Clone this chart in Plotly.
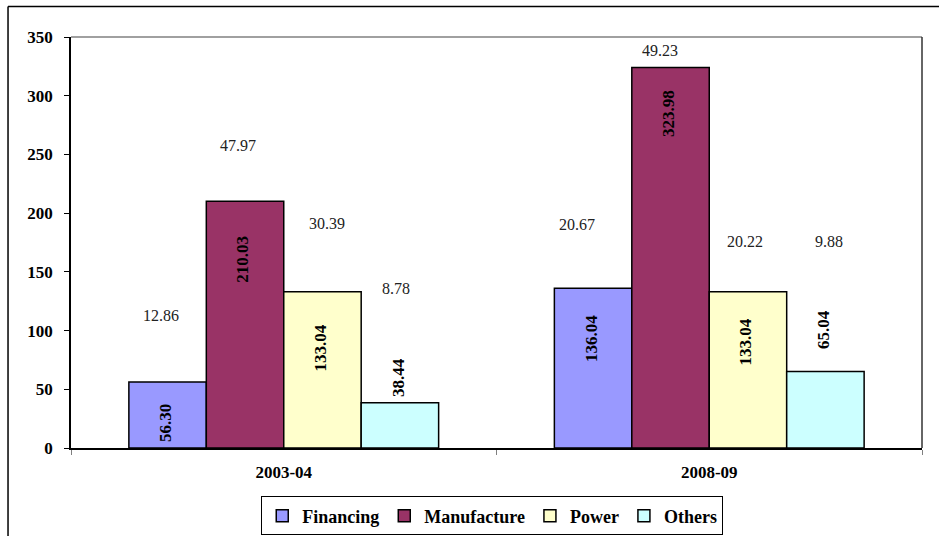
import plotly.graph_objects as go

categories = ["2003-04", "2008-09"]
series_names = ["Financing", "Manufacture", "Power", "Others"]
values = {
    "Financing": [56.30, 136.04],
    "Manufacture": [210.03, 323.98],
    "Power": [133.04, 133.04],
    "Others": [38.44, 65.04],
}
shares = {
    "Financing": [12.86, 20.67],
    "Manufacture": [47.97, 49.23],
    "Power": [30.39, 20.22],
    "Others": [8.78, 9.88],
}
# label heights (data units) as placed in the original
value_label_y = {
    "Financing": [20.9, 92.8],
    "Manufacture": [160.4, 284.9],
    "Power": [85.1, 90.6],
    "Others": [60.4, 100.9],
}
share_label_y = {
    "Financing": [113.2, 190.6],
    "Manufacture": [257.9, 338.7],
    "Power": [191.2, 175.6],
    "Others": [135.9, 175.6],
}
share_label_nudge = {
    "Financing": [-7, -16],
    "Manufacture": [-7, -11],
    "Power": [5, -3],
    "Others": [-4, 4],
}
colors = {
    "Financing": "#9999FF",
    "Manufacture": "#993366",
    "Power": "#FFFFCC",
    "Others": "#CCFFFF",
}
y_ticks = [0, 50, 100, 150, 200, 250, 300, 350]

FONT = "Liberation Serif, Times New Roman, serif"
bargap = 0.272

fig = go.Figure()
for name in series_names:
    fig.add_trace(go.Bar(
        x=categories, y=values[name], name=name,
        marker=dict(color=colors[name], line=dict(color="black", width=1.5)),
    ))

n = len(series_names)
w = (1 - bargap) / n
annotations = []
for j, name in enumerate(series_names):
    for i, cat in enumerate(categories):
        xc = i + (j - (n - 1) / 2) * w
        annotations.append(dict(
            x=xc, y=value_label_y[name][i], xref="x", yref="y",
            text=f"<b>{values[name][i]:.2f}</b>", showarrow=False,
            textangle=-90, xshift=-2,
            font=dict(family=FONT, size=17, color="black"),
        ))
        annotations.append(dict(
            x=xc, y=share_label_y[name][i], xref="x", yref="y",
            text=f"{shares[name][i]:.2f}", showarrow=False,
            xshift=share_label_nudge[name][i],
            font=dict(family=FONT, size=16, color="#222222"),
        ))

shapes = [
    # outer chart frame (extends past the image on right/bottom)
    dict(type="line", xref="paper", yref="paper", x0=-0.074, x1=-0.074, y0=1.074, y1=-0.4,
         line=dict(color="black", width=1.5)),
    dict(type="line", xref="paper", yref="paper", x0=-0.074, x1=1.1, y0=1.074, y1=1.074,
         line=dict(color="black", width=1.5)),
    # plot-area frame
    dict(type="line", xref="paper", yref="paper", x0=0, x1=1, y0=1, y1=1,
         line=dict(color="#808080", width=1.5)),
    dict(type="line", xref="paper", yref="paper", x0=1, x1=1, y0=0, y1=1,
         line=dict(color="#333333", width=1.5)),
]

fig.update_layout(
    width=939, height=536,
    margin=dict(l=71, r=17, t=37, b=88, autoexpand=False),
    paper_bgcolor="white", plot_bgcolor="white",
    barmode="group", bargap=bargap, bargroupgap=0,
    font=dict(family=FONT, color="black"),
    showlegend=True,
    legend=dict(
        orientation="h", x=0.495, xanchor="center", y=-0.118, yanchor="top",
        bordercolor="black", borderwidth=1, bgcolor="white",
        font=dict(family=FONT, size=18, color="black", weight="bold"),
        itemwidth=30, tracegroupgap=0,
    ),
    annotations=annotations,
    shapes=shapes,
)
fig.update_xaxes(
    type="category", categoryorder="array", categoryarray=categories,
    showline=True, linecolor="black", linewidth=1.5,
    ticks="outside", tickson="boundaries", ticklen=5, tickcolor="#808080",
    tickfont=dict(family=FONT, size=17, color="black", weight="bold"),
    ticklabelstandoff=8,
    showgrid=False, zeroline=False,
)
fig.update_yaxes(
    range=[0, 350], tickvals=y_ticks, ticktext=[str(v) for v in y_ticks],
    showline=True, linecolor="black", linewidth=1.5,
    ticks="outside", ticklen=5, tickcolor="black",
    tickfont=dict(family=FONT, size=17, color="black", weight="bold"),
    ticklabelstandoff=8,
    showgrid=False, zeroline=False,
)

fig.write_html("out.html")
